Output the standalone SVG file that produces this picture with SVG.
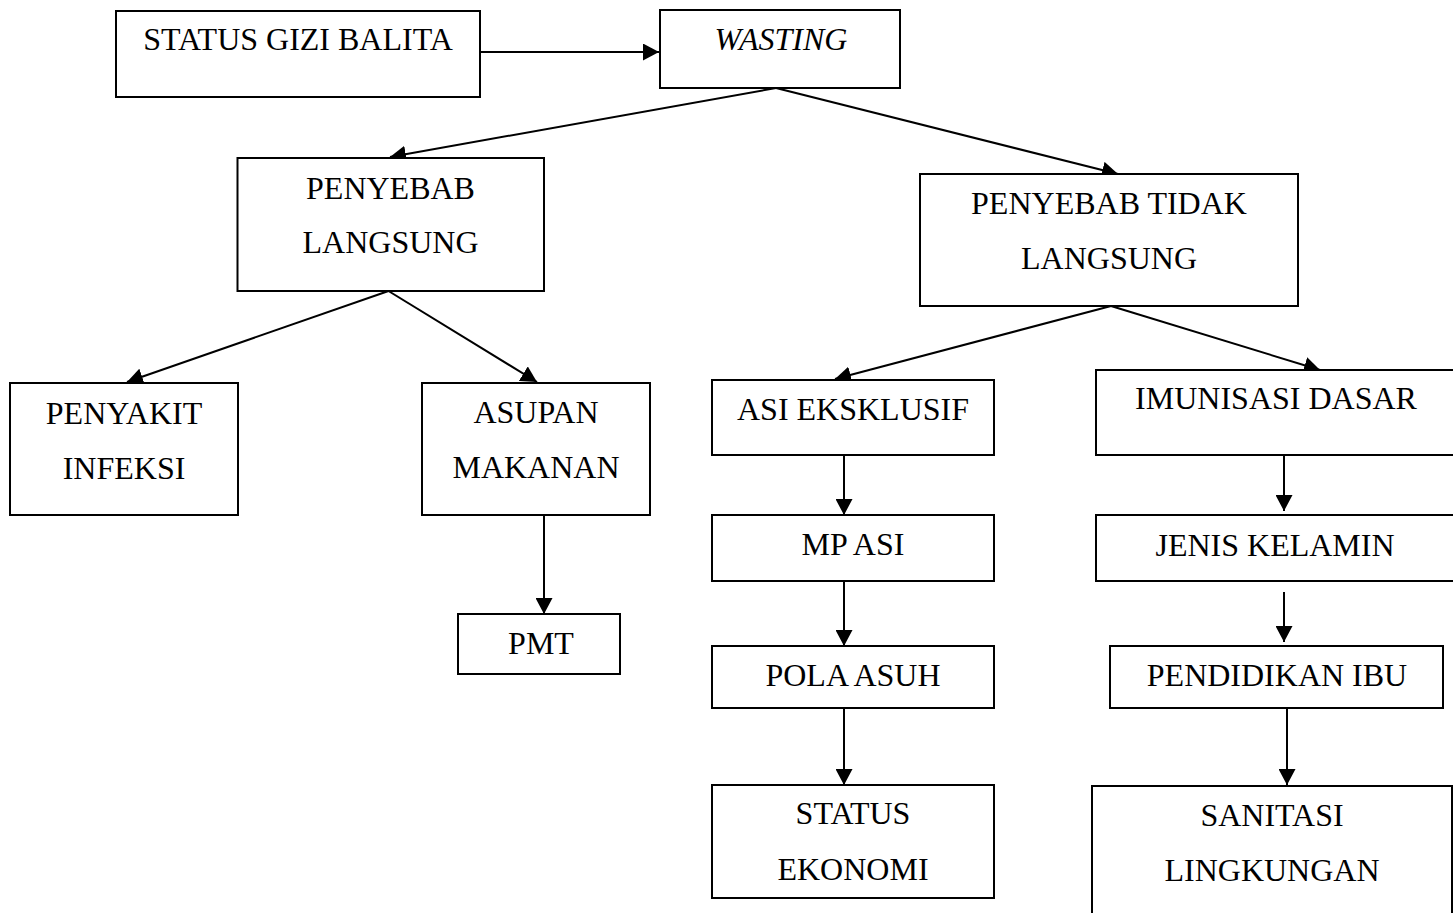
<svg xmlns="http://www.w3.org/2000/svg" width="1453" height="913" viewBox="0 0 1453 913">
<defs>
<style>
.box{fill:#fff;stroke:#000;stroke-width:2}
.t{font-family:"Liberation Serif","Times New Roman",serif;font-size:32px;fill:#000;text-anchor:middle}
.it{font-style:italic}
.c{stroke:#000;stroke-width:2;fill:none;marker-end:url(#ah)}
</style>
<marker id="ah" viewBox="0 0 16 17" refX="16" refY="8.5" markerWidth="16" markerHeight="17" markerUnits="userSpaceOnUse" orient="auto">
<path d="M0,0 L16,8.5 L0,17 z" fill="#000"/>
</marker>
</defs>
<rect width="1453" height="913" fill="#fff"/>
<g id="connectors">
<line class="c" x1="481" y1="52" x2="659" y2="52"/>
<line class="c" x1="776" y1="88" x2="390" y2="157"/>
<line class="c" x1="776" y1="88" x2="1118" y2="174"/>
<line class="c" x1="388.5" y1="291" x2="127" y2="382"/>
<line class="c" x1="388.5" y1="291" x2="537" y2="382"/>
<line class="c" x1="544" y1="515" x2="544" y2="614"/>
<line class="c" x1="1111" y1="306" x2="835" y2="379"/>
<line class="c" x1="1111" y1="306" x2="1320" y2="370"/>
<line class="c" x1="844" y1="455" x2="844" y2="515"/>
<line class="c" x1="844" y1="581" x2="844" y2="646"/>
<line class="c" x1="844" y1="708" x2="844" y2="785"/>
<line class="c" x1="1284" y1="455" x2="1284" y2="511"/>
<line class="c" x1="1284" y1="592" x2="1284" y2="642"/>
<line class="c" x1="1287" y1="708" x2="1287" y2="785"/>
</g>
<g id="status-gizi">
<rect class="box" x="116" y="11" width="364" height="86"/>
<text class="t" x="298" y="50">STATUS GIZI BALITA</text>
</g>
<g id="wasting">
<rect class="box" x="660" y="10" width="240" height="78"/>
<text class="t it" x="781" y="50">WASTING</text>
</g>
<g id="penyebab-langsung">
<rect class="box" x="237.5" y="158" width="306.5" height="133"/>
<text class="t" x="390.5" y="199">PENYEBAB</text>
<text class="t" x="390.5" y="253">LANGSUNG</text>
</g>
<g id="penyebab-tidak-langsung">
<rect class="box" x="920" y="174" width="378" height="132"/>
<text class="t" x="1109" y="214">PENYEBAB TIDAK</text>
<text class="t" x="1109" y="269">LANGSUNG</text>
</g>
<g id="penyakit-infeksi">
<rect class="box" x="10" y="383" width="228" height="132"/>
<text class="t" x="124" y="424">PENYAKIT</text>
<text class="t" x="124" y="479">INFEKSI</text>
</g>
<g id="asupan-makanan">
<rect class="box" x="422" y="383" width="228" height="132"/>
<text class="t" x="536" y="423">ASUPAN</text>
<text class="t" x="536" y="478">MAKANAN</text>
</g>
<g id="pmt">
<rect class="box" x="458" y="614" width="162" height="60"/>
<text class="t" x="541" y="654">PMT</text>
</g>
<g id="asi-eksklusif">
<rect class="box" x="712" y="380" width="282" height="75"/>
<text class="t" x="853" y="420">ASI EKSKLUSIF</text>
</g>
<g id="mp-asi">
<rect class="box" x="712" y="515" width="282" height="66"/>
<text class="t" x="853" y="555">MP ASI</text>
</g>
<g id="pola-asuh">
<rect class="box" x="712" y="646" width="282" height="62"/>
<text class="t" x="853" y="686">POLA ASUH</text>
</g>
<g id="status-ekonomi">
<rect class="box" x="712" y="785" width="282" height="113"/>
<text class="t" x="853" y="824">STATUS</text>
<text class="t" x="853" y="880">EKONOMI</text>
</g>
<g id="imunisasi-dasar">
<rect class="box" x="1096" y="370" width="362" height="85"/>
<text class="t" x="1276" y="409">IMUNISASI DASAR</text>
</g>
<g id="jenis-kelamin">
<rect class="box" x="1096" y="515" width="362" height="66"/>
<text class="t" x="1275" y="556">JENIS KELAMIN</text>
</g>
<g id="pendidikan-ibu">
<rect class="box" x="1110" y="646" width="333" height="62"/>
<text class="t" x="1277" y="686">PENDIDIKAN IBU</text>
</g>
<g id="sanitasi-lingkungan">
<rect class="box" x="1092" y="786" width="360" height="140"/>
<text class="t" x="1272" y="826">SANITASI</text>
<text class="t" x="1272" y="881">LINGKUNGAN</text>
</g>
</svg>
